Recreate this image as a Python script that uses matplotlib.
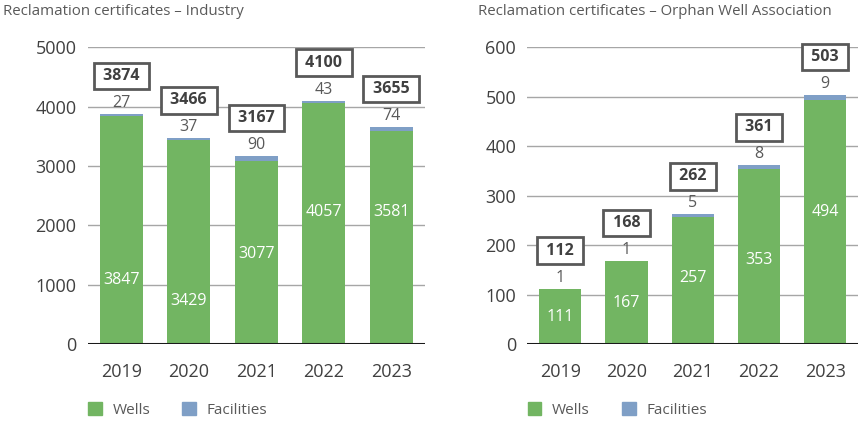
import matplotlib.pyplot as plt

plt.rcParams['font.family'] = ['Open Sans', 'DejaVu Sans']

years = ['2019', '2020', '2021', '2022', '2023']

# industry
ind_wells = [3847, 3429, 3077, 4057, 3581]
ind_facilities = [27, 37, 90, 43, 74]
ind_totals = [3874, 3466, 3167, 4100, 3655]

# orphan well association
owa_wells = [111, 167, 257, 353, 494]
owa_facilities = [1, 1, 5, 8, 9]
owa_totals = [112, 168, 262, 361, 503]

green = '#72b562'
blue = '#7f9fc6'
dark = '#595959'


def draw(ax, title, wells, facilities, totals, ymax, step, label_frac, title_x):
    x = range(len(years))
    ax.bar(x, wells, width=0.64, color=green, zorder=3)
    ax.bar(x, facilities, width=0.64, bottom=wells, color=blue, zorder=3)
    ax.set_ylim(0, ymax)
    ax.set_xlim(-0.5, len(years) - 0.5)
    ax.set_yticks(range(0, ymax + 1, step))
    ax.set_xticks(list(x))
    ax.set_xticklabels(years)
    ax.grid(axis='y', color='#a6a6a6', lw=1, zorder=0)
    ax.axhline(0, color='#1a1a1a', lw=2.2, zorder=4)
    for s in ax.spines.values():
        s.set_visible(False)
    ax.tick_params(length=0, labelsize=13, labelcolor='#404040', pad=14)
    ax.tick_params(axis='y', pad=8)

    for i in x:
        ax.text(i, wells[i] * label_frac[i], str(wells[i]), ha='center', va='center',
                color='white', fontsize=11.5, zorder=5)
        ax.annotate(str(facilities[i]), (i, totals[i]), xytext=(0, 3),
                    textcoords='offset pixels', ha='center', va='bottom',
                    color=dark, fontsize=11.5)
        ax.annotate(' %d ' % totals[i], (i, totals[i]), xytext=(0, 38),
                    textcoords='offset pixels', ha='center', va='center',
                    color='#404040', fontsize=11.5, fontweight='bold',
                    bbox=dict(boxstyle='square,pad=0.33', fc='white', ec=dark, lw=2),
                    zorder=6)

    fig.text(title_x, 0.99, title, ha='left', va='top', fontsize=10.8, color=dark)

    h1 = plt.Rectangle((0, 0), 1, 1, color=green)
    h2 = plt.Rectangle((0, 0), 1, 1, color=blue)
    ax.legend([h1, h2], ['Wells', 'Facilities'], loc='upper left',
              bbox_to_anchor=(-0.04, -0.15), ncol=2, frameon=False,
              fontsize=11, labelcolor=dark, handlelength=0.9, handleheight=0.9,
              columnspacing=2.1, handletextpad=0.7)


fig = plt.figure(figsize=(8.6, 4.43), dpi=100)
ax1 = fig.add_axes([0.102, 0.2235, 0.392, 0.670])
ax2 = fig.add_axes([0.613, 0.2235, 0.385, 0.670])

draw(ax1, 'Reclamation certificates – Industry', ind_wells, ind_facilities, ind_totals,
     5000, 1000, [0.28, 0.21, 0.49, 0.55, 0.62], 0.004)
draw(ax2, 'Reclamation certificates – Orphan Well Association', owa_wells, owa_facilities,
     owa_totals, 600, 100, [0.5, 0.5, 0.52, 0.48, 0.54], 0.556)

fig.savefig('out.png', dpi=100)
